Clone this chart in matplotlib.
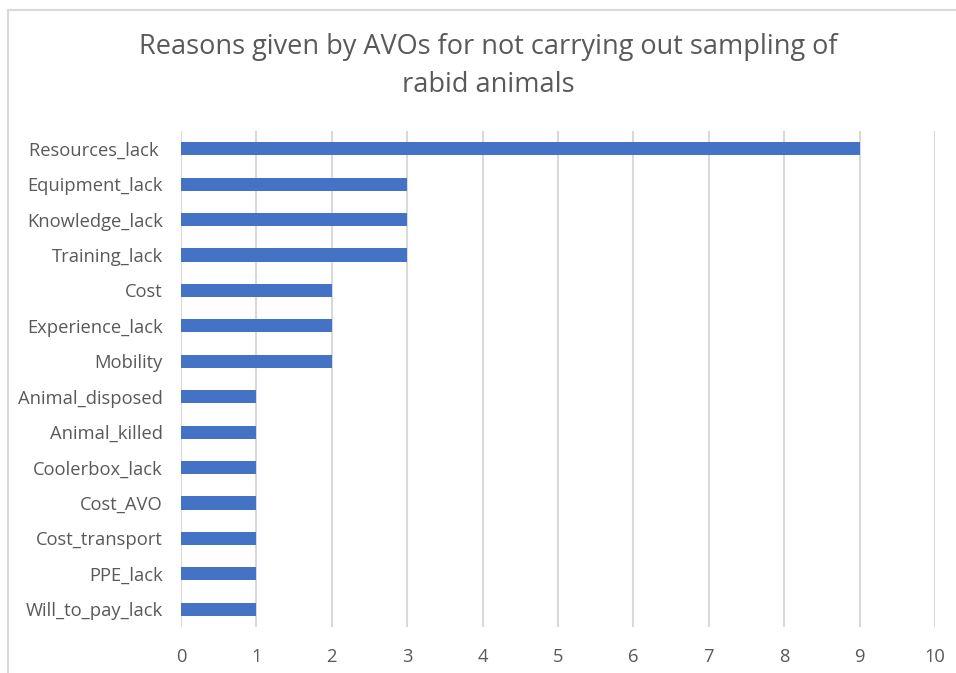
import matplotlib
matplotlib.use("Agg")
import matplotlib.pyplot as plt
from matplotlib.patches import Rectangle
import numpy as np

plt.rcParams['font.family'] = ['Open Sans', 'DejaVu Sans']

# counts of each reason given by AVOs
reasons = ["Resources_lack ", "Equipment_lack", "Knowledge_lack", "Training_lack",
           "Cost", "Experience_lack", "Mobility", "Animal_disposed", "Animal_killed",
           "Coolerbox_lack", "Cost_AVO", "Cost_transport", "PPE_lack", "Will_to_pay_lack"]
counts = [9, 3, 3, 3, 2, 2, 2, 1, 1, 1, 1, 1, 1, 1]

text_col = "#595959"
grid_col = "#D9D9D9"
bar_col = "#4472C4"

fig = plt.figure(figsize=(9.56, 6.73), dpi=100)
ax = fig.add_axes([181/956, 1 - 627/673, (935 - 181)/956, (627 - 131)/673])

y = np.arange(len(reasons))
ax.barh(y, counts, height=0.37, color=bar_col, zorder=3)
ax.set_ylim(len(reasons) - 0.5, -0.5)
ax.set_xlim(0, 10)
ax.set_xticks(range(0, 11))
ax.set_yticks(y)
ax.set_yticklabels(reasons)

ax.grid(axis="x", color=grid_col, linewidth=1.5, zorder=0)
for s in ax.spines.values():
    s.set_visible(False)
ax.tick_params(axis="both", length=0, labelsize=13.2, labelcolor=text_col)
ax.tick_params(axis="y", pad=13)
ax.tick_params(axis="x", pad=15)

fig.text(488/956, 1 - 66/673,
         "Reasons given by AVOs for not carrying out sampling of\nrabid animals",
         ha="center", va="center", fontsize=19.5, color=text_col, linespacing=1.45)

# chart frame
fig.patches.append(Rectangle((8/956, -0.1), 1.0, 1.1 - 10/673, transform=fig.transFigure,
                             fill=False, edgecolor=grid_col, linewidth=1.5))

fig.savefig("out.png", dpi=100)
